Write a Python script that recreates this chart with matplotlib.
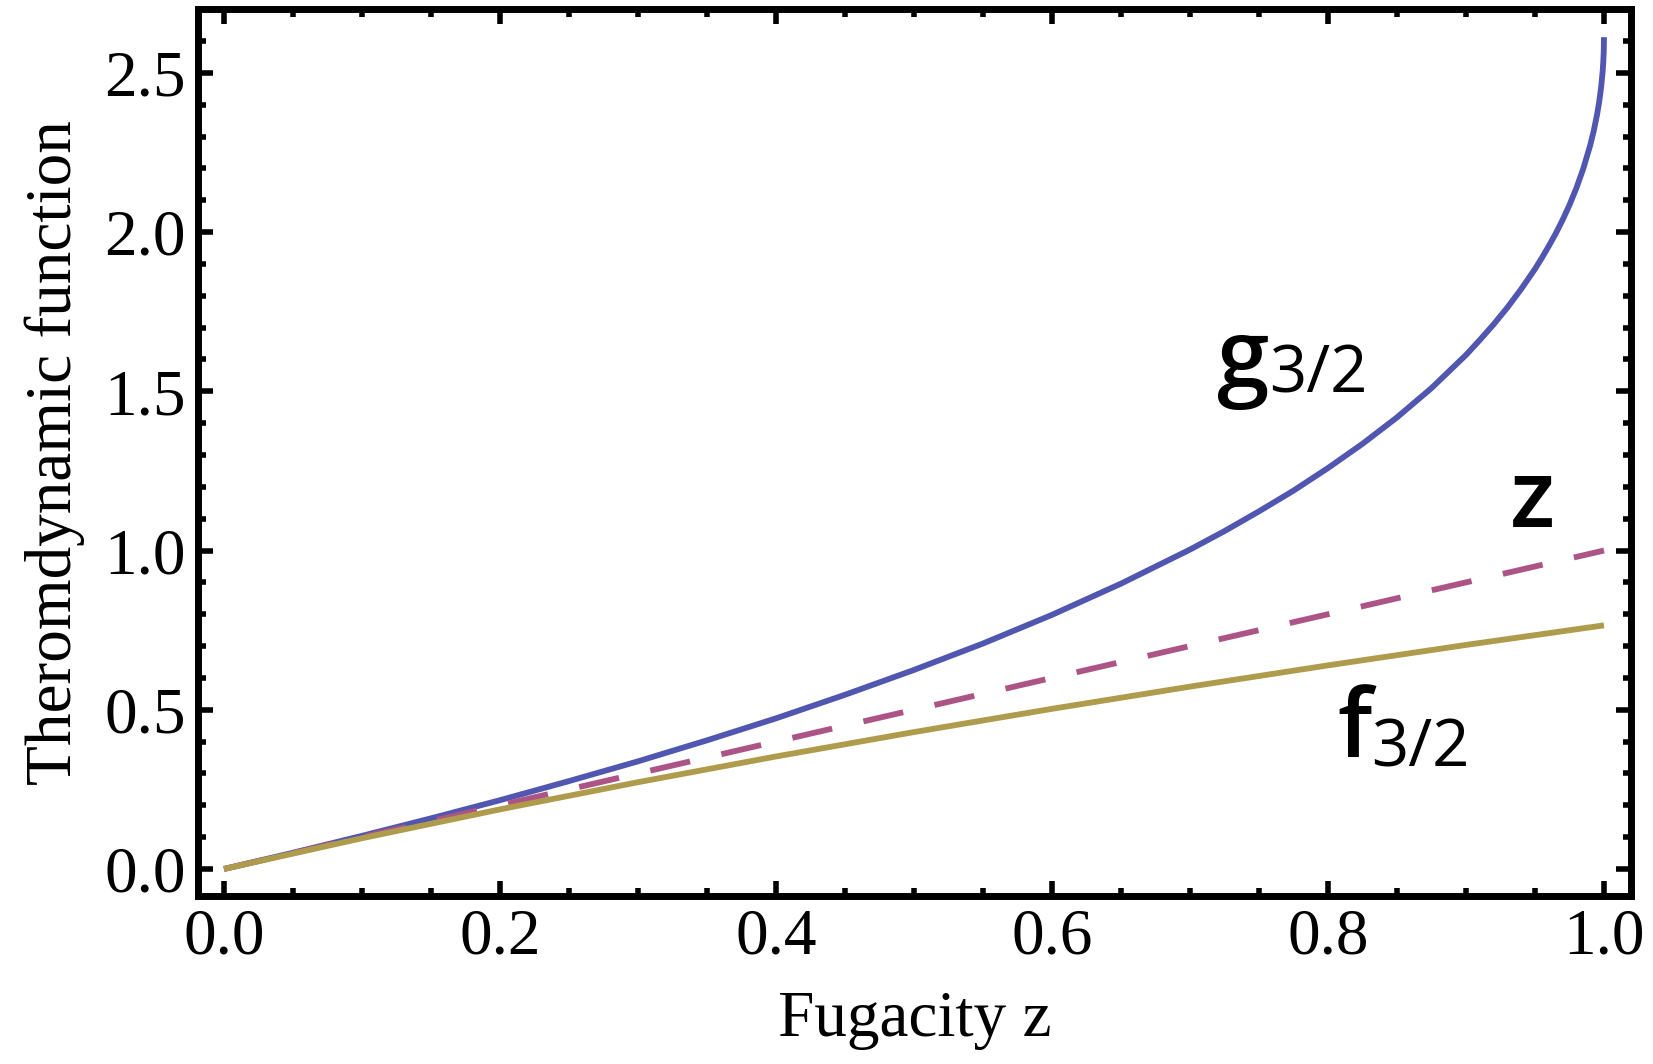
import matplotlib
matplotlib.use('Agg')
import matplotlib.pyplot as plt
from matplotlib.ticker import MultipleLocator
from matplotlib.transforms import offset_copy

# values
g_z = [0.0, 0.05, 0.1, 0.15, 0.2, 0.25, 0.3, 0.35, 0.4, 0.45, 0.5, 0.55, 0.6,
       0.65, 0.7, 0.725, 0.75, 0.775, 0.8, 0.825, 0.85, 0.875, 0.9, 0.91,
       0.92, 0.93, 0.94, 0.95, 0.955, 0.96, 0.965, 0.97, 0.975, 0.98, 0.985,
       0.99, 0.9925, 0.995, 0.9965, 0.998, 0.999, 0.9995, 0.9998, 0.9999, 1.0]
g_vals = [0.0, 0.051, 0.104, 0.159, 0.216, 0.276, 0.338, 0.404, 0.473, 0.547,
          0.625, 0.708, 0.798, 0.896, 1.003, 1.061, 1.123, 1.188, 1.259,
          1.335, 1.418, 1.510, 1.614, 1.661, 1.710, 1.763, 1.821, 1.884,
          1.919, 1.956, 1.995, 2.038, 2.085, 2.138, 2.199, 2.272, 2.316,
          2.369, 2.408, 2.457, 2.502, 2.534, 2.563, 2.577, 2.612]
f_z = [0.0, 0.1, 0.2, 0.3, 0.4, 0.5, 0.6, 0.7, 0.8, 0.9, 1.0]
f_vals = [0.0, 0.0966, 0.1872, 0.2725, 0.3533, 0.4299, 0.5029, 0.5726, 0.6394,
          0.7035, 0.7651]
line_z = [0.0, 1.0]
line_vals = [0.0, 1.0]

blue = '#5157b0'
purple = '#ad5487'
gold = '#ae9c4c'

fig = plt.figure(figsize=(16.53, 10.64), dpi=100)
ax = fig.add_axes([0.1198, 0.1579, 0.9867 - 0.1198, 0.9911 - 0.1579])

ax.plot(g_z, g_vals, color=blue, lw=4.2, solid_capstyle='butt',
        solid_joinstyle='round', zorder=2)
ax.plot(line_z, line_vals, color=purple, lw=4.2, dashes=(7, 5.5),
        dash_capstyle='butt', zorder=3)
ax.plot(f_z, f_vals, color=gold, lw=4.2, solid_capstyle='butt', zorder=4)

ax.set_xlim(-0.0188, 1.0196)
ax.set_ylim(-0.0848, 2.699)

ax.xaxis.set_major_locator(MultipleLocator(0.2))
ax.xaxis.set_minor_locator(MultipleLocator(0.05))
ax.yaxis.set_major_locator(MultipleLocator(0.5))
ax.yaxis.set_minor_locator(MultipleLocator(0.1))
ax.xaxis.set_major_formatter(plt.FuncFormatter(lambda v, p: f"{v:.1f}"))
ax.yaxis.set_major_formatter(plt.FuncFormatter(lambda v, p: f"{v:.1f}"))

for s in ax.spines.values():
    s.set_linewidth(5)
ax.tick_params(which='both', direction='in', top=True, right=True, width=4)
ax.tick_params(which='major', length=11, labelsize=47, pad=9)
ax.tick_params(which='minor', length=6)
for lab in ax.get_xticklabels() + ax.get_yticklabels():
    lab.set_family('Liberation Serif')

ax.set_xlabel('Fugacity z', family='Liberation Serif', fontsize=47, labelpad=16)
ax.set_ylabel('Theromdynamic function', family='Liberation Serif', fontsize=47,
              labelpad=14)

# curve labels: big letter, then "3/2" right after it
big = dict(family='Open Sans', fontweight='semibold', fontsize=68, va='baseline')
small = dict(family='Open Sans', fontsize=47, va='baseline')

fig.canvas.draw()
renderer = fig.canvas.get_renderer()


def label(x, y, letter, sub=None, drop=0):
    t = ax.text(x, y, letter, **big)
    if sub is None:
        return
    bb = t.get_window_extent(renderer)
    xd = ax.transData.inverted().transform((bb.x1, 0))[0]
    tr = offset_copy(ax.transData, fig=fig, x=0, y=-drop, units='dots')
    ax.text(xd, y, sub, transform=tr, **small)


label(0.7196, 1.513, 'g', '3/2', drop=5)
label(0.932, 1.074, 'z')
label(0.8065, 0.352, 'f', '3/2', drop=10)

fig.savefig('out.png', dpi=100)
